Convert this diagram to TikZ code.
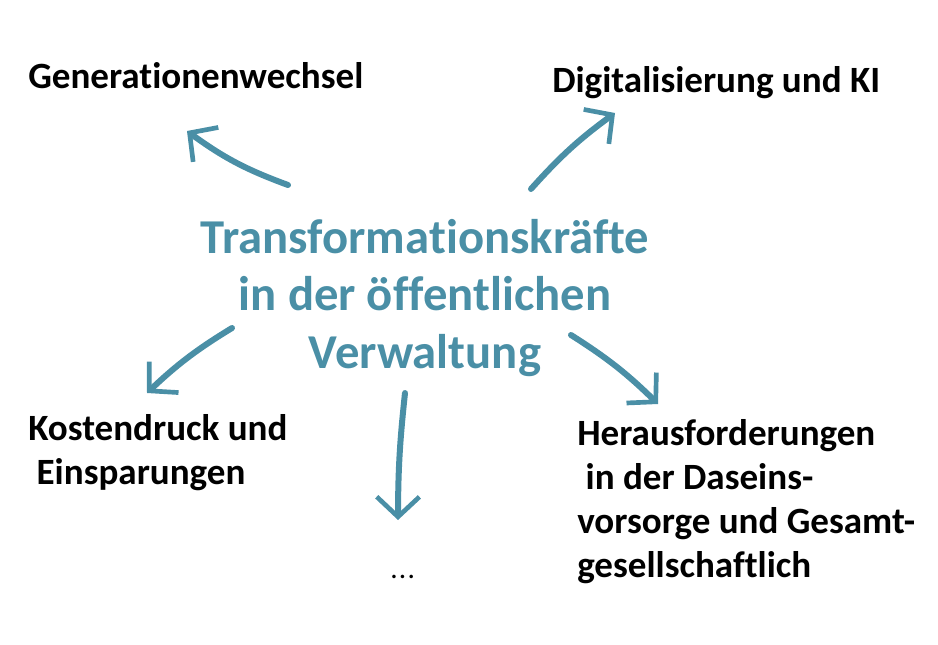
\documentclass[tikz,border=0pt]{standalone}
\usepackage{fontspec}
\setmainfont{Carlito}[Ligatures={NoCommon}]
\usetikzlibrary{arrows.meta}
\definecolor{petrol}{RGB}{74,143,166}

\begin{document}
\begin{tikzpicture}[x=0.75pt,y=-0.75pt,
    force/.style={font=\fontsize{27.8}{33}\selectfont\bfseries,anchor=base west,inner sep=0pt},
    kern/.style={font=\fontsize{36.5}{43}\selectfont\bfseries,text=petrol,align=center,inner sep=0pt},
    pfeil/.style={draw=petrol,line width=4.5pt,line cap=round,
      -{Straight Barb[length=15pt,width=32pt,line width=3.5pt]}}]
     \useasboundingbox (0,0) rectangle (938,645);
     % Mitte
     \node[kern] (kern) at (425,298) {Transformationskräfte\\in der öffentlichen\\Verwaltung};
     % Beschriftungen
     \node[force] (gen) at (28,89) {Generationenwechsel};
     \node[force] (dig) at (552,93) {Digitalisierung und KI};
     \node[force,align=left,anchor=north west] (kost) at (28,414) {Kostendruck und\\\ Einsparungen};
     \node[force,align=left,anchor=north west] (hera) at (577,419) {Herausforderungen\\\ in der Daseins-\\vorsorge und Gesamt-\\gesellschaftlich};
     \node[force] (etc) at (390,578) {\fontsize{22}{26}\selectfont\mdseries .\kern1pt.\kern1pt.};
     % Pfeile
     \coordinate (a1) at (288,185);  \coordinate (b1) at (187,131);
     \coordinate (a2) at (531,189);  \coordinate (b2) at (615,113);
     \coordinate (a3) at (232,328);  \coordinate (b3) at (147,393);
     \coordinate (a4) at (571,335);  \coordinate (b4) at (658,404);
     \coordinate (a5) at (405,393);  \coordinate (b5) at (398,520);
     \draw[pfeil] (a1) to[bend left=8] (b1);
     \draw[pfeil] (a2) to[bend left=6] (b2);
     \draw[pfeil] (a3) to[bend right=6] (b3);
     \draw[pfeil] (a4) to[bend left=6] (b4);
     \draw[pfeil] (a5) to[bend right=3] (b5);
\end{tikzpicture}
\end{document}
